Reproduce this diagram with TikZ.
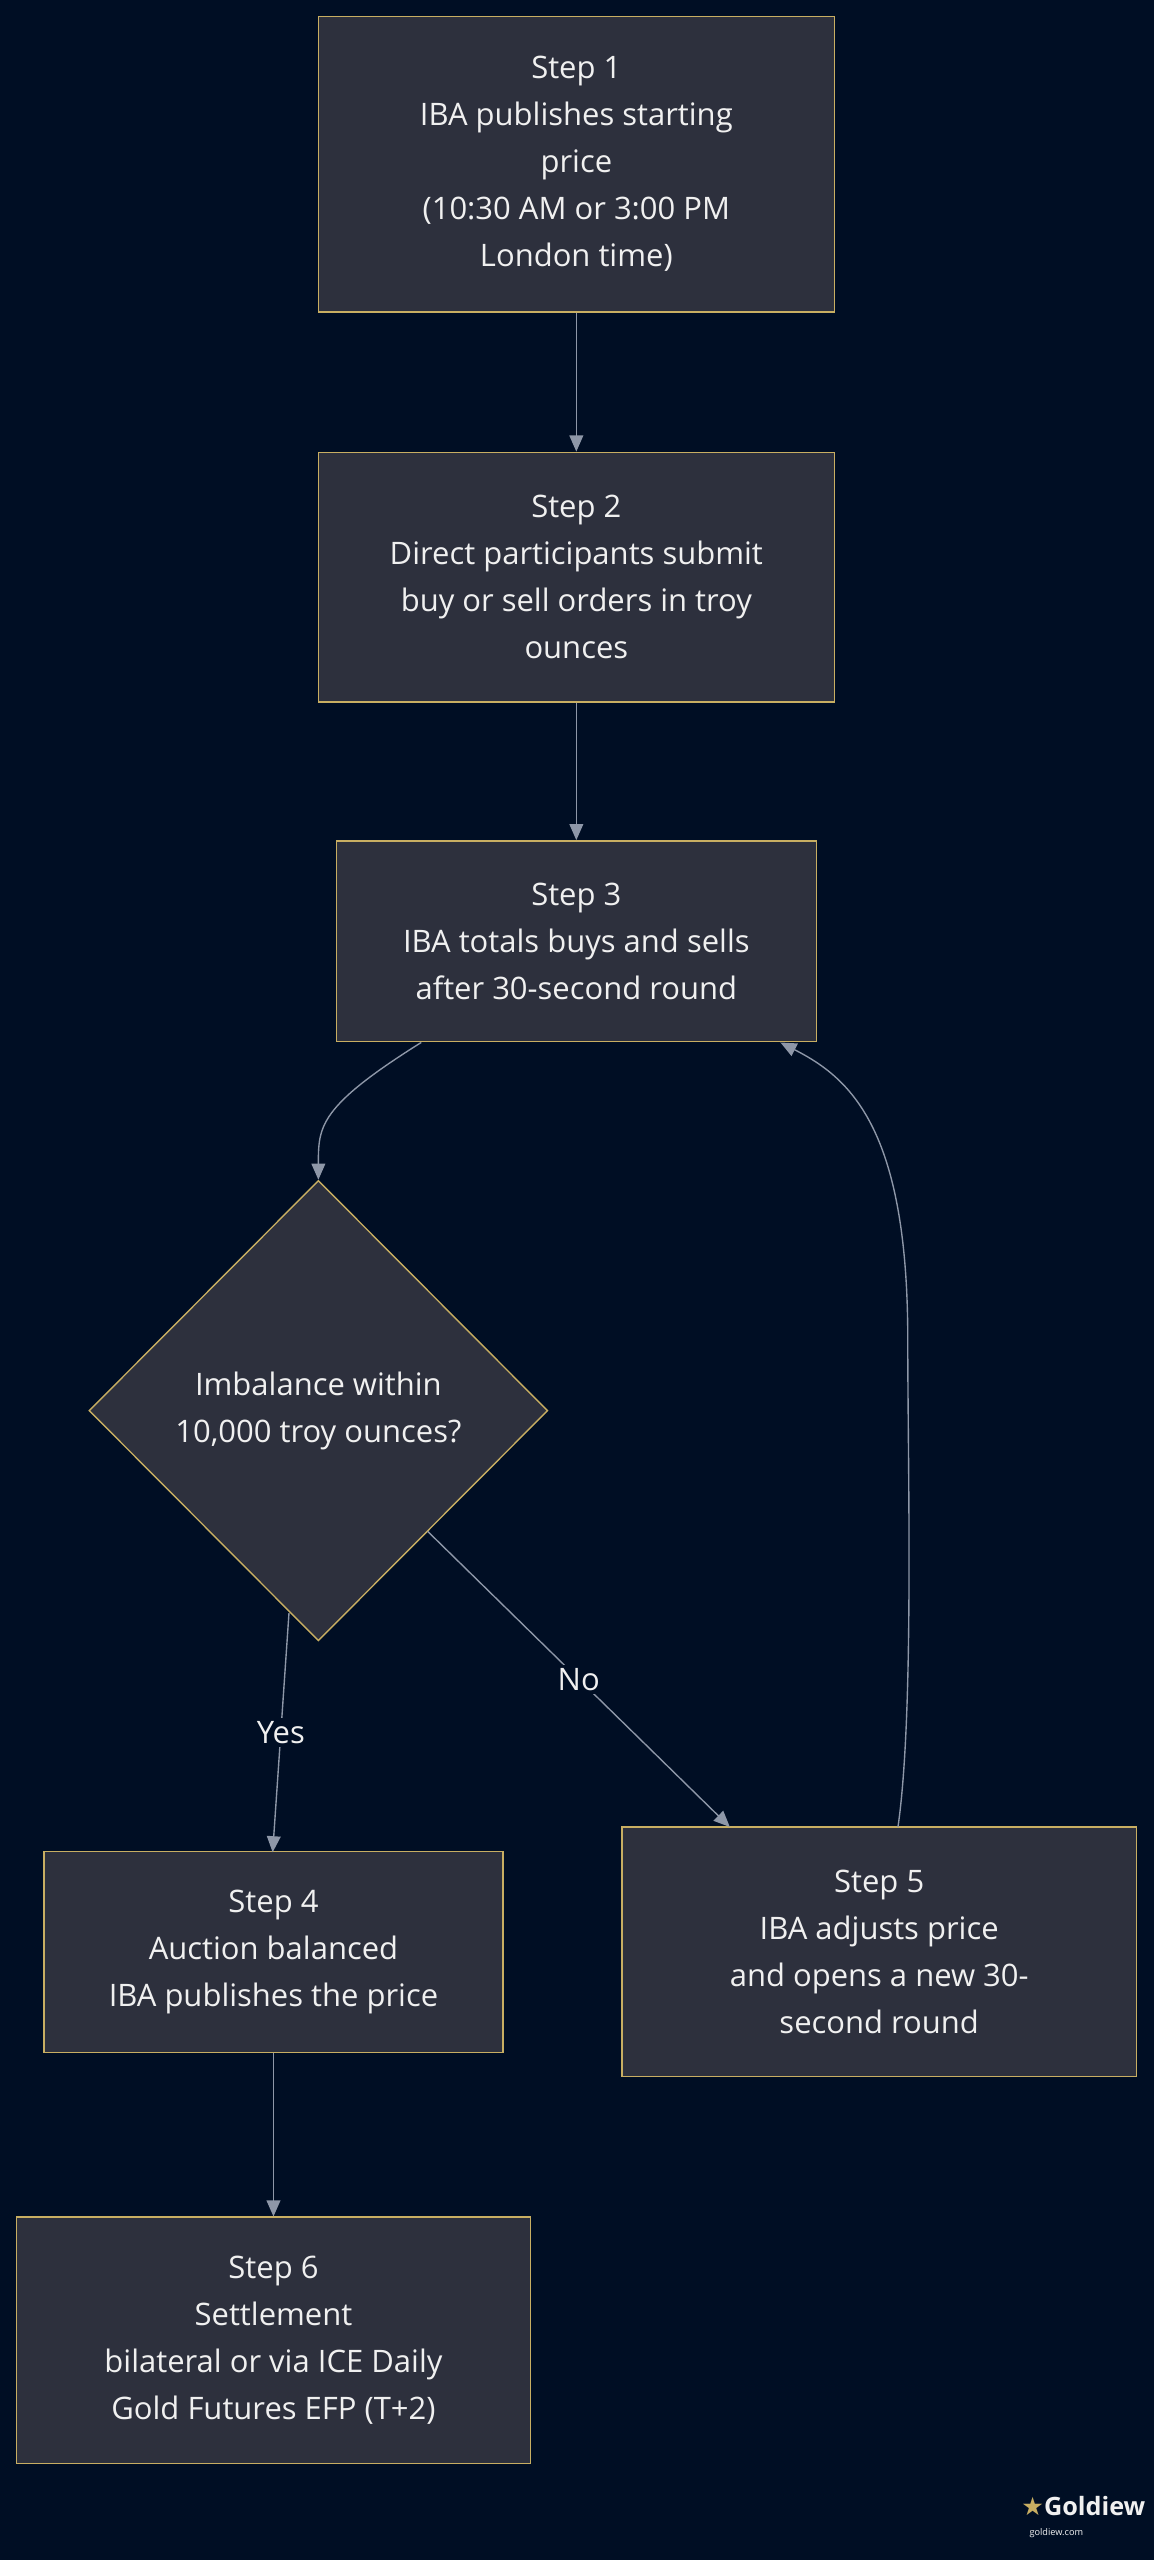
\documentclass[tikz,border=0pt]{standalone}
\usepackage{fontspec}
\setmainfont{Open Sans}
\newfontfamily\symfont{DejaVu Sans}
\usetikzlibrary{shapes.geometric,arrows.meta}
\definecolor{pagebg}{HTML}{000E24}
\definecolor{boxfill}{HTML}{2D303D}
\definecolor{boxline}{HTML}{C8AE62}
\definecolor{wire}{HTML}{8E97A8}
\definecolor{ink}{HTML}{F0F0F0}
\tikzset{
  stepbox/.style={draw=boxline, fill=boxfill, line width=1.2pt, text=ink, align=center,
    inner sep=0pt, font=\fontsize{27}{41}\selectfont},
  check/.style={stepbox, diamond},
  flow/.style={draw=wire, line width=1.2pt, -{Triangle[length=14pt,width=12pt]}},
  tag/.style={fill=pagebg, text=ink, font=\fontsize{27}{30}\selectfont, inner sep=3pt}
}
\begin{document}
\begin{tikzpicture}[x=0.05cm,y=-0.05cm]
\fill[pagebg] (0,0) rectangle (707,1568);
\useasboundingbox (0,0) rectangle (707,1568);

% steps
\node[stepbox, minimum width=316*0.05cm, minimum height=181*0.05cm] (s1) at (353,100.5)
  {Step 1\\IBA publishes starting\\price\\(10:30 AM or 3:00 PM\\London time)};
\node[stepbox, minimum width=316*0.05cm, minimum height=153*0.05cm] (s2) at (353,353.5)
  {Step 2\\Direct participants submit\\buy or sell orders in troy\\ounces};
\node[stepbox, minimum width=294*0.05cm, minimum height=123*0.05cm] (s3) at (353,576.5)
  {Step 3\\IBA totals buys and sells\\after 30-second round};
\node[check, minimum width=281*0.05cm, minimum height=282*0.05cm] (chk) at (195,864)
  {Imbalance within\\10,000 troy ounces?};
\node[stepbox, minimum width=281*0.05cm, minimum height=123*0.05cm] (s4) at (167.5,1195.5)
  {Step 4\\Auction balanced\\IBA publishes the price};
\node[stepbox, minimum width=315*0.05cm, minimum height=153*0.05cm] (s5) at (538.5,1195.5)
  {Step 5\\IBA adjusts price\\and opens a new 30-\\second round};
\node[stepbox, minimum width=315*0.05cm, minimum height=151*0.05cm] (s6) at (167.5,1433.5)
  {Step 6\\Settlement\\bilateral or via ICE Daily\\Gold Futures EFP (T+2)};

% connectors
\draw[flow] (258,638.5) .. controls (195,678) and (195,690) .. (chk.north);
\draw[flow] (s1) -- (s2);
\draw[flow] (s2) -- (s3);
\draw[flow] (177,988) -- (167,1134.5) node[tag, pos=0.5] {Yes};
\draw[flow] (262,938) -- (447,1119) node[tag, pos=0.5] {No};
\draw[flow] (550,1119) .. controls (560,1050) and (556,900) .. (556,820)
  .. controls (556,690) and (520,660) .. (478,638.5);
\draw[flow] (s4) -- (s6);

% logo
\node[text=ink, font=\fontsize{22}{24}\selectfont\bfseries, anchor=east] (logo) at (704,1535)
  {{\symfont\color{boxline}★}Goldiew};
\node[text=ink!70, font=\fontsize{8}{10}\selectfont, anchor=north] (url) at (647,1546) {goldiew.com};
\end{tikzpicture}
\end{document}
